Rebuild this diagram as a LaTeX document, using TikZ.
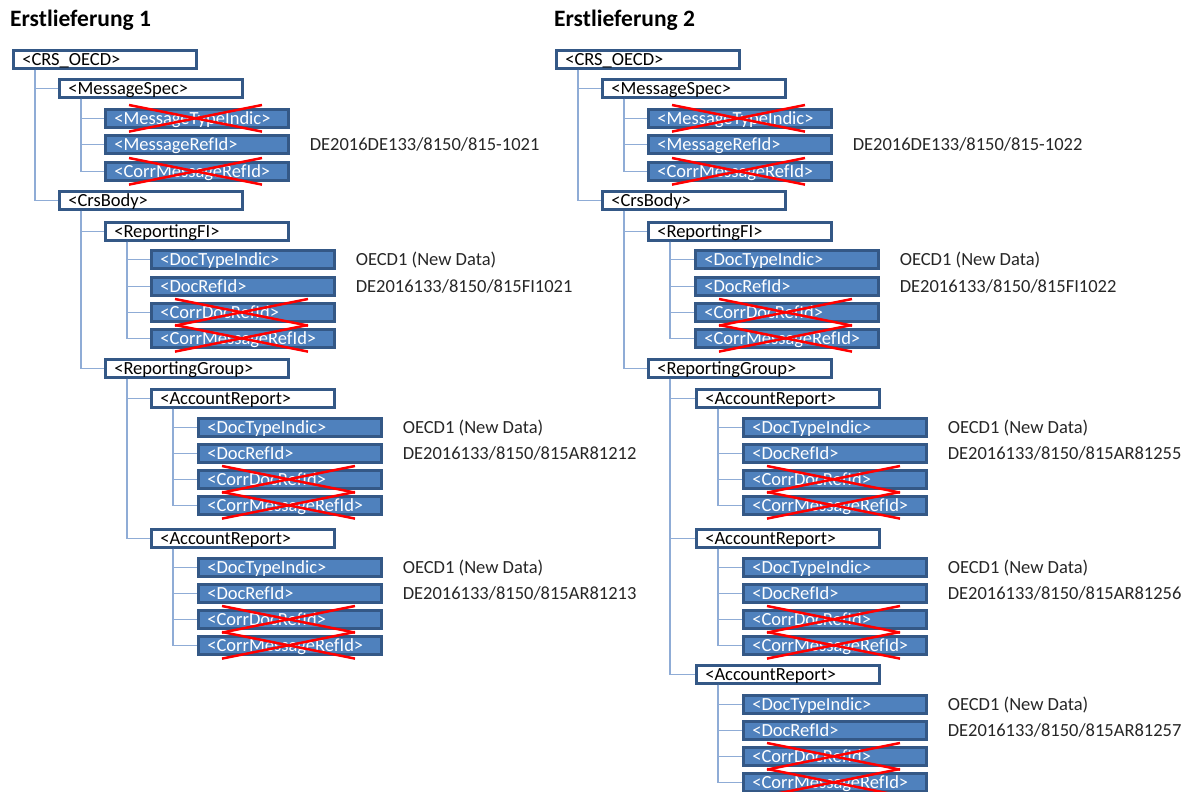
\documentclass[tikz,border=0pt]{standalone}
\usepackage{fontspec}
\setmainfont{Carlito}
\usetikzlibrary{positioning}
\definecolor{xmlborder}{RGB}{52,88,134}
\definecolor{xmlblue}{RGB}{79,129,189}
\definecolor{xmlline}{RGB}{143,172,214}
\definecolor{xmltext}{RGB}{38,38,38}

\tikzset{
  elem/.style={draw=xmlborder, line width=2.6pt, anchor=north west, minimum height=18pt,
    text width=165pt, inner xsep=9pt, inner ysep=0pt, align=left,
    text height=15pt, text depth=2pt, font=\fontsize{18.5}{20}\selectfont},
  group/.style={elem, fill=white, text=black},
  leaf/.style={elem, fill=xmlblue, text=white},
  conn/.style={draw=xmlline, line width=1.5pt},
  value/.style={inner sep=0pt, text=xmltext, text height=15pt, text depth=2pt,
    font=\fontsize{18.5}{20}\selectfont},
  strike/.style={draw=red, line width=2.5pt},
  title/.style={anchor=base west, inner sep=0pt, font=\fontsize{23.5}{26}\selectfont\bfseries}
}
% red X across an element that is not sent
\newcommand{\crossout}[1]{%
  \draw[strike] ([xshift=25pt,yshift=3pt]#1.north west) -- ([xshift=158pt,yshift=-3pt]#1.south west);
  \draw[strike] ([xshift=25pt,yshift=-3pt]#1.south west) -- ([xshift=158pt,yshift=3pt]#1.north west);}

\begin{document}
\begin{tikzpicture}[x=1pt, y=-1pt]
    \useasboundingbox (0,0) rectangle (1189,792);

    % Erstlieferung 1
    \node[title] (l-title) at (10,27) {Erstlieferung 1};
    \node[group] (l-crs) at (12,49) {<CRS\_OECD>};
    \node[group] (l-msgspec) at (58,78) {<MessageSpec>};
    \node[leaf] (l-msgtype) at (104,108) {<MessageTypeIndic>};
    \node[leaf] (l-msgref) at (104,134) {<MessageRefId>};
    \node[leaf] (l-corrmsg) at (104,161) {<CorrMessageRefId>};
    \node[group] (l-body) at (58,190) {<CrsBody>};
    \node[group] (l-fi) at (104,221) {<ReportingFI>};
    \node[leaf] (l-fi-type) at (150,249) {<DocTypeIndic>};
    \node[leaf] (l-fi-ref) at (150,276) {<DocRefId>};
    \node[leaf] (l-fi-corrdoc) at (150,302) {<CorrDocRefId>};
    \node[leaf] (l-fi-corrmsg) at (150,328) {<CorrMessageRefId>};
    \node[group] (l-rg) at (104,358) {<ReportingGroup>};
    \node[group] (l-ar1) at (150,388) {<AccountReport>};
    \node[leaf] (l-ar1-type) at (197,417) {<DocTypeIndic>};
    \node[leaf] (l-ar1-ref) at (197,443) {<DocRefId>};
    \node[leaf] (l-ar1-corrdoc) at (197,469) {<CorrDocRefId>};
    \node[leaf] (l-ar1-corrmsg) at (197,495) {<CorrMessageRefId>};
    \node[group] (l-ar2) at (150,528) {<AccountReport>};
    \node[leaf] (l-ar2-type) at (197,557) {<DocTypeIndic>};
    \node[leaf] (l-ar2-ref) at (197,583) {<DocRefId>};
    \node[leaf] (l-ar2-corrdoc) at (197,609) {<CorrDocRefId>};
    \node[leaf] (l-ar2-corrmsg) at (197,635) {<CorrMessageRefId>};

    \node[value, right=20pt of l-msgref] (l-msgref-val) {DE2016DE133/8150/815-1021};
    \node[value, right=20pt of l-fi-type] (l-fi-type-val) {OECD1 (New Data)};
    \node[value, right=20pt of l-fi-ref] (l-fi-ref-val) {DE2016133/8150/815FI1021};
    \node[value, right=20pt of l-ar1-type] (l-ar1-type-val) {OECD1 (New Data)};
    \node[value, right=20pt of l-ar1-ref] (l-ar1-ref-val) {DE2016133/8150/815AR81212};
    \node[value, right=20pt of l-ar2-type] (l-ar2-type-val) {OECD1 (New Data)};
    \node[value, right=20pt of l-ar2-ref] (l-ar2-ref-val) {DE2016133/8150/815AR81213};

    \draw[conn] ([xshift=23pt]l-crs.south west) |- (l-msgspec.west);
    \draw[conn] ([xshift=23pt]l-crs.south west) |- (l-body.west);
    \draw[conn] ([xshift=23pt]l-msgspec.south west) |- (l-msgtype.west);
    \draw[conn] ([xshift=23pt]l-msgspec.south west) |- (l-msgref.west);
    \draw[conn] ([xshift=23pt]l-msgspec.south west) |- (l-corrmsg.west);
    \draw[conn] ([xshift=23pt]l-body.south west) |- (l-fi.west);
    \draw[conn] ([xshift=23pt]l-body.south west) |- (l-rg.west);
    \draw[conn] ([xshift=23pt]l-fi.south west) |- (l-fi-type.west);
    \draw[conn] ([xshift=23pt]l-fi.south west) |- (l-fi-ref.west);
    \draw[conn] ([xshift=23pt]l-fi.south west) |- (l-fi-corrdoc.west);
    \draw[conn] ([xshift=23pt]l-fi.south west) |- (l-fi-corrmsg.west);
    \draw[conn] ([xshift=23pt]l-rg.south west) |- (l-ar1.west);
    \draw[conn] ([xshift=23pt]l-rg.south west) |- (l-ar2.west);
    \draw[conn] ([xshift=23pt]l-ar1.south west) |- (l-ar1-type.west);
    \draw[conn] ([xshift=23pt]l-ar1.south west) |- (l-ar1-ref.west);
    \draw[conn] ([xshift=23pt]l-ar1.south west) |- (l-ar1-corrdoc.west);
    \draw[conn] ([xshift=23pt]l-ar1.south west) |- (l-ar1-corrmsg.west);
    \draw[conn] ([xshift=23pt]l-ar2.south west) |- (l-ar2-type.west);
    \draw[conn] ([xshift=23pt]l-ar2.south west) |- (l-ar2-ref.west);
    \draw[conn] ([xshift=23pt]l-ar2.south west) |- (l-ar2-corrdoc.west);
    \draw[conn] ([xshift=23pt]l-ar2.south west) |- (l-ar2-corrmsg.west);

    \crossout{l-msgtype}
    \crossout{l-corrmsg}
    \crossout{l-fi-corrdoc}
    \crossout{l-fi-corrmsg}
    \crossout{l-ar1-corrdoc}
    \crossout{l-ar1-corrmsg}
    \crossout{l-ar2-corrdoc}
    \crossout{l-ar2-corrmsg}

    % Erstlieferung 2
    \node[title] (r-title) at (554,27) {Erstlieferung 2};
    \node[group] (r-crs) at (555,49) {<CRS\_OECD>};
    \node[group] (r-msgspec) at (601,78) {<MessageSpec>};
    \node[leaf] (r-msgtype) at (647,108) {<MessageTypeIndic>};
    \node[leaf] (r-msgref) at (647,134) {<MessageRefId>};
    \node[leaf] (r-corrmsg) at (647,161) {<CorrMessageRefId>};
    \node[group] (r-body) at (601,190) {<CrsBody>};
    \node[group] (r-fi) at (647,221) {<ReportingFI>};
    \node[leaf] (r-fi-type) at (694,249) {<DocTypeIndic>};
    \node[leaf] (r-fi-ref) at (694,276) {<DocRefId>};
    \node[leaf] (r-fi-corrdoc) at (694,302) {<CorrDocRefId>};
    \node[leaf] (r-fi-corrmsg) at (694,328) {<CorrMessageRefId>};
    \node[group] (r-rg) at (647,358) {<ReportingGroup>};
    \node[group] (r-ar1) at (695,388) {<AccountReport>};
    \node[leaf] (r-ar1-type) at (742,417) {<DocTypeIndic>};
    \node[leaf] (r-ar1-ref) at (742,443) {<DocRefId>};
    \node[leaf] (r-ar1-corrdoc) at (742,469) {<CorrDocRefId>};
    \node[leaf] (r-ar1-corrmsg) at (742,495) {<CorrMessageRefId>};
    \node[group] (r-ar2) at (695,528) {<AccountReport>};
    \node[leaf] (r-ar2-type) at (742,557) {<DocTypeIndic>};
    \node[leaf] (r-ar2-ref) at (742,583) {<DocRefId>};
    \node[leaf] (r-ar2-corrdoc) at (742,609) {<CorrDocRefId>};
    \node[leaf] (r-ar2-corrmsg) at (742,635) {<CorrMessageRefId>};
    \node[group] (r-ar3) at (695,664) {<AccountReport>};
    \node[leaf] (r-ar3-type) at (742,694) {<DocTypeIndic>};
    \node[leaf] (r-ar3-ref) at (742,720) {<DocRefId>};
    \node[leaf] (r-ar3-corrdoc) at (742,746) {<CorrDocRefId>};
    \node[leaf] (r-ar3-corrmsg) at (742,772) {<CorrMessageRefId>};

    \node[value, right=20pt of r-msgref] (r-msgref-val) {DE2016DE133/8150/815-1022};
    \node[value, right=20pt of r-fi-type] (r-fi-type-val) {OECD1 (New Data)};
    \node[value, right=20pt of r-fi-ref] (r-fi-ref-val) {DE2016133/8150/815FI1022};
    \node[value, right=20pt of r-ar1-type] (r-ar1-type-val) {OECD1 (New Data)};
    \node[value, right=20pt of r-ar1-ref] (r-ar1-ref-val) {DE2016133/8150/815AR81255};
    \node[value, right=20pt of r-ar2-type] (r-ar2-type-val) {OECD1 (New Data)};
    \node[value, right=20pt of r-ar2-ref] (r-ar2-ref-val) {DE2016133/8150/815AR81256};
    \node[value, right=20pt of r-ar3-type] (r-ar3-type-val) {OECD1 (New Data)};
    \node[value, right=20pt of r-ar3-ref] (r-ar3-ref-val) {DE2016133/8150/815AR81257};

    \draw[conn] ([xshift=23pt]r-crs.south west) |- (r-msgspec.west);
    \draw[conn] ([xshift=23pt]r-crs.south west) |- (r-body.west);
    \draw[conn] ([xshift=23pt]r-msgspec.south west) |- (r-msgtype.west);
    \draw[conn] ([xshift=23pt]r-msgspec.south west) |- (r-msgref.west);
    \draw[conn] ([xshift=23pt]r-msgspec.south west) |- (r-corrmsg.west);
    \draw[conn] ([xshift=23pt]r-body.south west) |- (r-fi.west);
    \draw[conn] ([xshift=23pt]r-body.south west) |- (r-rg.west);
    \draw[conn] ([xshift=23pt]r-fi.south west) |- (r-fi-type.west);
    \draw[conn] ([xshift=23pt]r-fi.south west) |- (r-fi-ref.west);
    \draw[conn] ([xshift=23pt]r-fi.south west) |- (r-fi-corrdoc.west);
    \draw[conn] ([xshift=23pt]r-fi.south west) |- (r-fi-corrmsg.west);
    \draw[conn] ([xshift=23pt]r-rg.south west) |- (r-ar1.west);
    \draw[conn] ([xshift=23pt]r-rg.south west) |- (r-ar2.west);
    \draw[conn] ([xshift=23pt]r-rg.south west) |- (r-ar3.west);
    \draw[conn] ([xshift=23pt]r-ar1.south west) |- (r-ar1-type.west);
    \draw[conn] ([xshift=23pt]r-ar1.south west) |- (r-ar1-ref.west);
    \draw[conn] ([xshift=23pt]r-ar1.south west) |- (r-ar1-corrdoc.west);
    \draw[conn] ([xshift=23pt]r-ar1.south west) |- (r-ar1-corrmsg.west);
    \draw[conn] ([xshift=23pt]r-ar2.south west) |- (r-ar2-type.west);
    \draw[conn] ([xshift=23pt]r-ar2.south west) |- (r-ar2-ref.west);
    \draw[conn] ([xshift=23pt]r-ar2.south west) |- (r-ar2-corrdoc.west);
    \draw[conn] ([xshift=23pt]r-ar2.south west) |- (r-ar2-corrmsg.west);
    \draw[conn] ([xshift=23pt]r-ar3.south west) |- (r-ar3-type.west);
    \draw[conn] ([xshift=23pt]r-ar3.south west) |- (r-ar3-ref.west);
    \draw[conn] ([xshift=23pt]r-ar3.south west) |- (r-ar3-corrdoc.west);
    \draw[conn] ([xshift=23pt]r-ar3.south west) |- (r-ar3-corrmsg.west);

    \crossout{r-msgtype}
    \crossout{r-corrmsg}
    \crossout{r-fi-corrdoc}
    \crossout{r-fi-corrmsg}
    \crossout{r-ar1-corrdoc}
    \crossout{r-ar1-corrmsg}
    \crossout{r-ar2-corrdoc}
    \crossout{r-ar2-corrmsg}
    \crossout{r-ar3-corrdoc}
    \crossout{r-ar3-corrmsg}
\end{tikzpicture}
\end{document}
